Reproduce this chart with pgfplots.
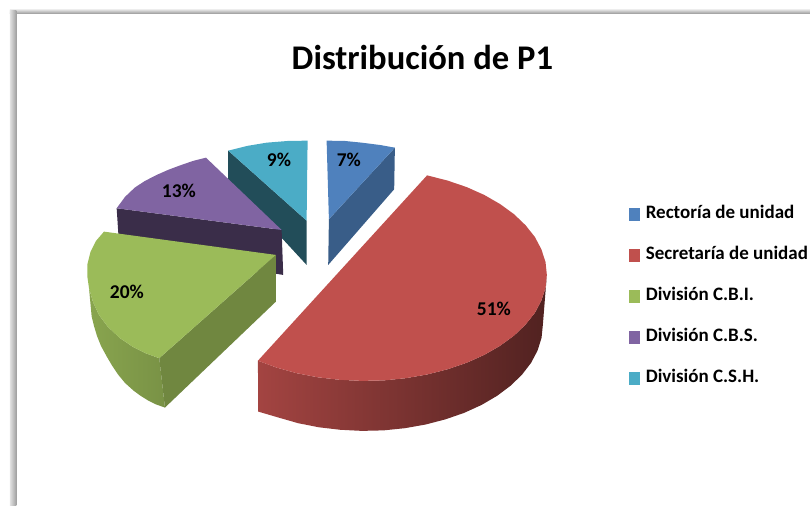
\documentclass[border=0pt]{standalone}
\usepackage{pgfplots}
\pgfplotsset{compat=1.18}
\usepackage{fontspec}
\setmainfont{Carlito}
\definecolor{cblue}{HTML}{4F81BD}
\definecolor{cred}{HTML}{C0504D}
\definecolor{cgreen}{HTML}{9BBB59}
\definecolor{cpurple}{HTML}{8064A2}
\definecolor{ccyan}{HTML}{4BACC6}
\begin{document}
\begin{tikzpicture}
\begin{axis}[
  scale only axis, width=810pt, height=506pt,
  xmin=0, xmax=810, ymin=0, ymax=506, y dir=reverse,
  hide axis, clip=false, no markers,
  legend style={at={(axis cs:629,207)}, anchor=north west, draw=none, fill=none,
    inner sep=0pt, outer sep=0pt, row sep=25.5pt, font=\fontsize{19}{21}\selectfont\bfseries,
    cells={anchor=west, text height=10pt, text depth=2pt}},
  legend image code/.code={\fill[#1,draw=none] (0pt,-6.5pt) rectangle (11pt,6.5pt);\path[draw=none,fill=none] (0pt,0pt) rectangle (15pt,0pt);},
]
\path (axis cs:0,0) rectangle (axis cs:810,506);
% frame
\shade[top color=white, bottom color=black!42] (axis cs:10,8) rectangle (axis cs:810,14);
\shade[left color=black!12, right color=black!38] (axis cs:10,11) rectangle (axis cs:16.5,506);
% cyan
\addplot[forget plot, fill=ccyan!45!black, draw=none] coordinates {(228.3,150.7)(306.7,220.7)(306.7,265)(228.3,180)};
\addplot[forget plot, fill=ccyan, draw=none] coordinates {(228.3,150.7)(247,146)(266.7,142.7)(288,141)(307.7,140.7)(306.7,220.7)};
% purple
\addplot[forget plot, fill=cpurple!45!black, draw=none] coordinates {(116.7,208.3)(281.7,230)(283.3,275)(119.3,248)};
\addplot[forget plot, fill=cpurple, draw=none] coordinates {(206,157.7)(193,161)(180,165.5)(168,170)(156.7,175)(145,181)(135,187.5)(125,197)(116.7,208.3)(281.7,230)};
% green
\addplot[forget plot, left color=cgreen!88!black, right color=cgreen!78!black, draw=none] coordinates {(89,288)(93,302)(99,315)(108,327)(120,338.3)(133,347)(146,353.5)(159.3,358.3)(165,407.7)(156,404.5)(148,400.5)(140,395.5)(133.3,390.5)(125,383)(118,374.5)(112,365.5)(106.7,356.5)(101,346)(97,336)(94,326)(91.7,316.7)};
\addplot[forget plot, fill=cgreen!72!black, draw=none] coordinates {(159.3,358.3)(276,255)(276,301.7)(165,407.7)};
\addplot[forget plot, fill=cgreen, draw=none] coordinates {(104,231.7)(96,241)(90.5,252)(87.5,264)(87.3,276)(89,288)(93,302)(99,315)(108,327)(120,338.3)(133,347)(146,353.5)(159.3,358.3)(276,255)};
% blue
\addplot[forget plot, fill=cblue!72!black, draw=none] coordinates {(395,147.7)(394.3,189.3)(328.3,265)(329,219.3)};
\addplot[forget plot, fill=cblue, draw=none] coordinates {(326.7,140.7)(345,141)(361.7,142.7)(380,145)(395,147.7)(329,219.3)};
% red
\addplot[forget plot, left color=cred!85!black, middle color=cred!52!black, right color=cred!42!black, draw=none] coordinates {(547,275)(545.7,287.9)(541.5,300.7)(535,313)(525.7,324.7)(514.1,335.8)(500.2,345.9)(484.4,355)(466.7,362.9)(447.6,369.4)(427.2,374.6)(405.9,378.3)(384.1,380.5)(361.9,381)(339.7,379.9)(317.9,377.4)(296.8,373.3)(276.7,367.7)(258,360.8)(258.3,411.7)(278.7,417.7)(298.2,423.3)(318.9,427.4)(340.3,429.9)(362,431)(383.7,430.5)(405.1,428.3)(425.9,424.6)(445.8,419.4)(464.5,412.9)(481.8,405)(497.3,395.9)(510.8,385.8)(522.2,374.7)(531.2,363)(537.7,350.7)(541.7,337.9)(543,325)};
\addplot[forget plot, fill=cred, draw=none] coordinates {(427.2,175.4)(447.6,180.6)(466.7,187.1)(484.4,195)(500.2,204.1)(514.1,214.2)(525.7,225.3)(535,237)(541.5,249.3)(545.7,262.1)(547,275)(545.7,287.9)(541.5,300.7)(535,313)(525.7,324.7)(514.1,335.8)(500.2,345.9)(484.4,355)(466.7,362.9)(447.6,369.4)(427.2,374.6)(405.9,378.3)(384.1,380.5)(361.9,381)(339.7,379.9)(317.9,377.4)(296.8,373.3)(276.7,367.7)(258,360.8)};
% legend
\addlegendimage{fill=cblue}\addlegendentry{Rectoría de unidad}
\addlegendimage{fill=cred}\addlegendentry{Secretaría de unidad}
\addlegendimage{fill=cgreen}\addlegendentry{División C.B.I.}
\addlegendimage{fill=cpurple}\addlegendentry{División C.B.S.}
\addlegendimage{fill=ccyan}\addlegendentry{División C.S.H.}
% labels
\def\lab{\fontsize{19.5}{21}\selectfont\bfseries}
\node[font=\lab] at (axis cs:349,160) {7\%};
\node[font=\lab] at (axis cs:279,160) {9\%};
\node[font=\lab] at (axis cs:179,191) {13\%};
\node[font=\lab] at (axis cs:127,292) {20\%};
\node[font=\lab] at (axis cs:494,309) {51\%};
\node[font=\fontsize{34.6}{38}\selectfont\bfseries] at (axis cs:422.5,58) {Distribución de P1};
\end{axis}
\end{tikzpicture}
\end{document}
